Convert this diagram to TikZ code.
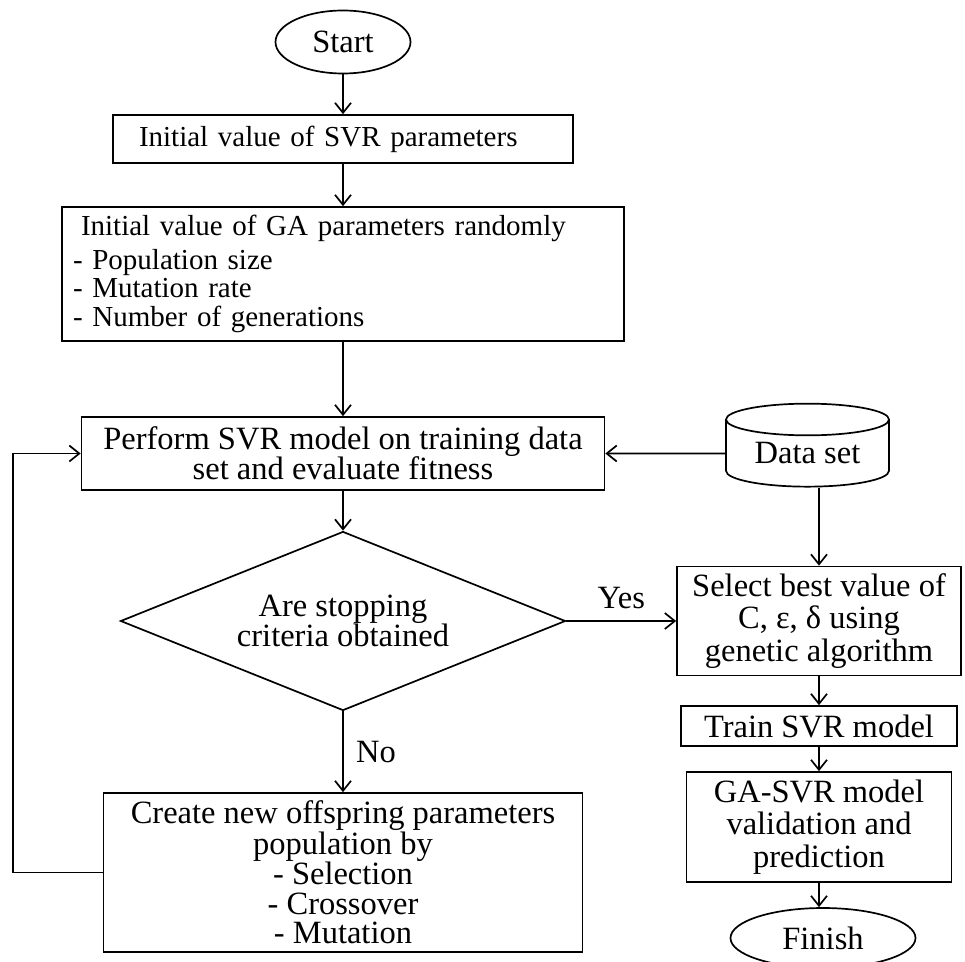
\documentclass[tikz,border=0pt]{standalone}
\usepackage{fontspec}
\setmainfont{Liberation Serif}
\usetikzlibrary{arrows.meta,positioning,shapes.geometric}

\begin{document}
\begin{tikzpicture}[>={Straight Barb[length=10pt,width=16pt]}, line width=1.7pt]
  \tikzstyle{every node}=[font=\fontsize{32.5}{32.5}\selectfont]
  \tikzstyle{block}=[rectangle, draw, align=center, inner sep=0pt]
  \tikzstyle{term}=[ellipse, draw, inner sep=0pt]
  \tikzstyle{decision}=[diamond, draw, aspect=2.5, inner sep=0pt, align=center]
  \tikzstyle{store}=[cylinder, shape border rotate=90, draw, aspect=0.3, inner sep=0pt]

  \useasboundingbox (0,0) rectangle (965pt,-961pt);
  \coordinate (back) at (13pt,0);

  \node[term, minimum width=135pt, minimum height=63pt] (start) at (343pt,-42pt) {Start};
  \node[block, minimum width=460pt, minimum height=48pt, text width=408pt, align=left,
        font=\fontsize{29}{29}\selectfont] (svr) [below of=start, node distance=97pt]
        {Initial value of SVR parameters};
  \node[block, minimum width=562pt, minimum height=134pt, text width=540pt, align=left,
        font=\fontsize{29}{28.5}\selectfont] (ga) [below of=svr, node distance=135pt]
        {\hspace*{8pt}Initial value of GA parameters randomly\\[5pt]
         - Population size\\ - Mutation rate\\ - Number of generations};
  \node[block, minimum width=523pt, minimum height=73pt,
        font=\fontsize{32.5}{30}\selectfont] (perform) [below of=ga, node distance=179.5pt]
        {Perform SVR model on training data\\set and evaluate fitness};
  \node[store, minimum width=163pt, minimum height=83pt] (data) [right of=perform, node distance=464.5pt] {Data set};
  \node[decision, minimum width=445pt, minimum height=179pt,
        font=\fontsize{32.5}{29}\selectfont] (stop) [below of=perform, node distance=167.5pt]
        {Are stopping\\criteria obtained};
  \node[block, minimum width=479pt, minimum height=159pt,
        font=\fontsize{32.5}{29.5}\selectfont] (create) [below of=stop, node distance=251.5pt]
        {Create new offspring parameters\\population by\\- Selection\\- Crossover\\- Mutation};
  %right column
  \node[block, minimum width=284pt, minimum height=109pt] (select) [right of=stop, node distance=476pt]
        {Select best value of\\C, ε, δ using\\genetic algorithm};
  \node[block, minimum width=276pt, minimum height=40pt] (train) [below of=select, node distance=105pt]
        {Train SVR model};
  \node[block, minimum width=265pt, minimum height=110pt] (gasvr) [below of=train, node distance=101pt]
        {GA-SVR model\\validation and\\prediction};
  \node[term, minimum width=185pt, minimum height=60pt] (finish) [below of=gasvr, node distance=111pt,
        xshift=4pt] {Finish};

  \path[->] (start) edge (svr)
            (svr) edge (ga)
            (ga) edge (perform)
            (data) edge (perform)
            (perform) edge (stop)
            (stop) edge node[above=8pt] {Yes} (select)
                   edge node[right=9pt] {No} (create)
            (data.south -| select.north) edge (select)
            (select) edge (train)
            (train) edge (gasvr)
            (gasvr.south) edge (gasvr.south |- finish.north);
  \draw[->] (create.west) -- (create.west -| back) |- (perform.west);
\end{tikzpicture}
\end{document}
